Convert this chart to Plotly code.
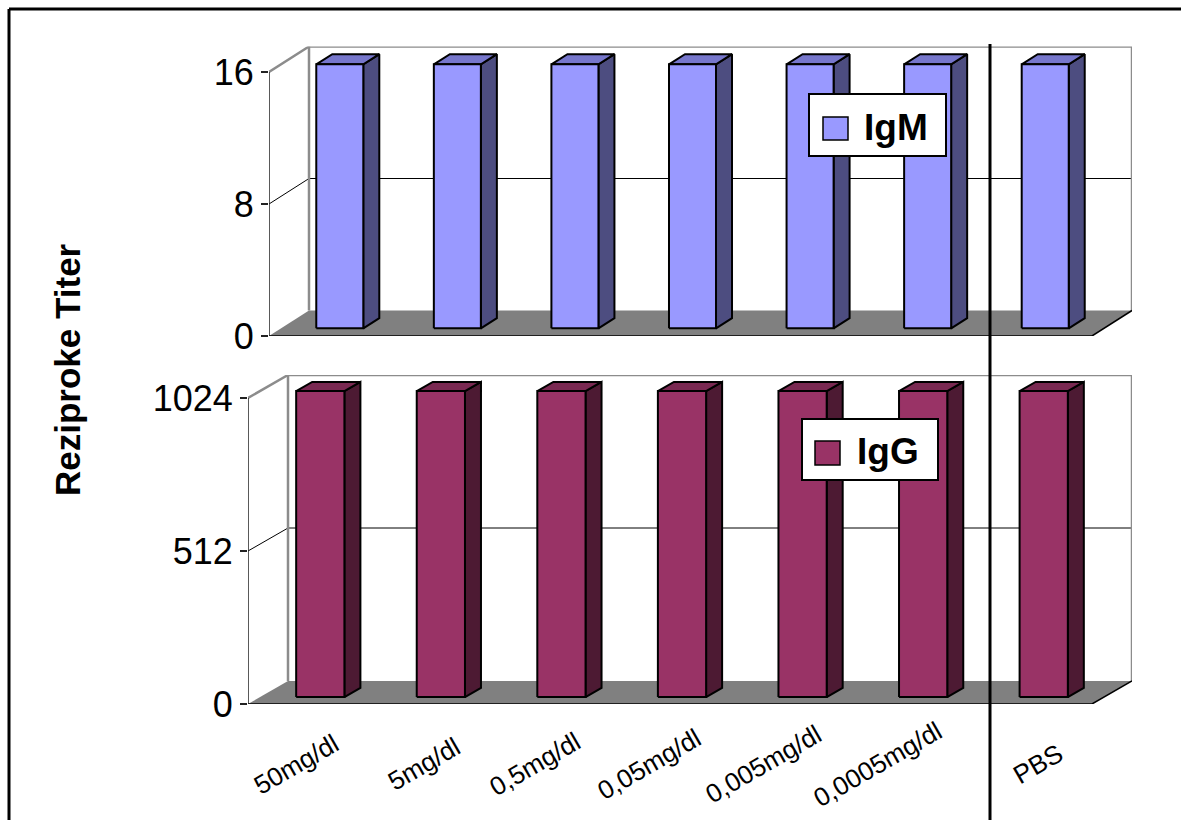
import plotly.graph_objects as go

# ---- data ----
categories = ["50mg/dl", "5mg/dl", "0,5mg/dl", "0,05mg/dl", "0,005mg/dl", "0,0005mg/dl", "PBS"]
igm_titer = [16, 16, 16, 16, 16, 16, 16]
igg_titer = [1024, 1024, 1024, 1024, 1024, 1024, 1024]
igm_ticks = [0, 8, 16]
igg_ticks = [0, 512, 1024]

# layout frame is expressed on a 1181 x 820 grid; figure canvas size below
W, H = 1181, 820
FIG_W, FIG_H = 1181, 841
FONT = "Liberation Sans, Arial, Helvetica, sans-serif"


def px(x):
    return x / W


def py(y):
    return 1 - y / H


# panel layout (pixel frame of the pseudo-3D plot box) and face colours
panels = [
    dict(name="IgM", values=igm_titer, ticks=igm_ticks, xa="x", ya="y",
         front_left=269, front_right=1092, depth_x=40,
         base_y=336, top_y=72, depth_y=25.5,
         front="#9999FF", top="#7777CC", side="#4D4D80",
         legend_box=(809, 94, 946, 156), legend_swatch=(823, 117, 848, 140),
         legend_text=(862, 127)),
    dict(name="IgG", values=igg_titer, ticks=igg_ticks, xa="x2", ya="y2",
         front_left=248, front_right=1092, depth_x=40,
         base_y=704, top_y=398, depth_y=23,
         front="#993366", top="#7A2952", side="#4D1A33",
         legend_box=(802, 419, 938, 480), legend_swatch=(815, 441, 840, 465),
         legend_text=(855, 451)),
]

BAR_W = 0.4          # bar width as fraction of category
BAR_D0, BAR_D1 = 0.3, 0.7   # bar depth span inside the floor

fig = go.Figure()
shapes = []
annotations = []
layout_axes = {}


def poly_trace(xs, ys, xa, ya, fill=None, line_color=None, line_width=0):
    kw = dict(x=xs, y=ys, mode="lines", xaxis=xa, yaxis=ya,
              hoverinfo="skip", showlegend=False)
    if fill:
        kw["fill"] = "toself"
        kw["fillcolor"] = fill
    if line_width:
        kw["line"] = dict(color=line_color, width=line_width)
    else:
        kw["line"] = dict(width=0, color="rgba(0,0,0,0)")
    return go.Scatter(**kw)


for p in panels:
    n = len(categories)
    cat_px = (p["front_right"] - p["front_left"]) / n
    DX = p["depth_x"] / cat_px
    vmax = max(p["ticks"])
    unit_px = (p["base_y"] - p["top_y"]) / vmax
    DY = p["depth_y"] / unit_px
    xa, ya = p["xa"], p["ya"]

    xkey = "xaxis" if xa == "x" else "xaxis" + xa[1:]
    ykey = "yaxis" if ya == "y" else "yaxis" + ya[1:]
    layout_axes[xkey] = dict(
        domain=[px(p["front_left"]), px(p["front_right"] + p["depth_x"])],
        range=[0, n + DX], anchor=ya, showgrid=False, zeroline=False,
        showline=False, showticklabels=False, ticks="", fixedrange=True)
    layout_axes[ykey] = dict(
        domain=[py(p["base_y"]), py(p["top_y"] - p["depth_y"])],
        range=[0, vmax + DY], anchor=xa, showgrid=False, zeroline=False,
        showline=False, tickvals=p["ticks"], ticktext=[str(t) for t in p["ticks"]],
        ticks="outside", ticklen=7, tickwidth=1.5, tickcolor="#222222",
        tickfont=dict(family=FONT, size=36, color="black"), fixedrange=True)

    # floor
    fig.add_trace(poly_trace([0, n, n + DX, DX, 0], [0, 0, DY, DY, 0], xa, ya,
                             fill="#808080"))
    # gridlines on side and back walls
    gx, gy = [], []
    for v in p["ticks"][1:-1]:
        gx += [0, DX, n + DX, None]
        gy += [v, v + DY, v + DY, None]
    fig.add_trace(poly_trace(gx, gy, xa, ya, line_color="black", line_width=1))
    # wall outline
    fig.add_trace(poly_trace(
        [0, DX, n + DX, n + DX, None, DX, DX],
        [vmax, vmax + DY, vmax + DY, DY, None, DY, vmax + DY],
        xa, ya, line_color="#8C8C8C", line_width=2.5))
    # floor front edges and value axis line
    fig.add_trace(poly_trace([0, n, n + DX], [0, 0, DY], xa, ya,
                             line_color="black", line_width=1.5))
    fig.add_trace(poly_trace([0, 0], [0, vmax], xa, ya,
                             line_color="#222222", line_width=1.5))

    # 3D bars
    ddx = (BAR_D1 - BAR_D0) * DX
    ddy = (BAR_D1 - BAR_D0) * DY
    fx, fy, sx, sy, tx, ty = [], [], [], [], [], []
    for i, v in enumerate(p["values"]):
        xl = i + 0.5 - BAR_W / 2 + BAR_D0 * DX
        xr = xl + BAR_W
        yb = BAR_D0 * DY
        yt = v + BAR_D0 * DY
        fx += [xl, xr, xr, xl, xl, None]
        fy += [yb, yb, yt, yt, yb, None]
        sx += [xr, xr + ddx, xr + ddx, xr, xr, None]
        sy += [yb, yb + ddy, yt + ddy, yt, yb, None]
        tx += [xl, xr, xr + ddx, xl + ddx, xl, None]
        ty += [yt, yt, yt + ddy, yt + ddy, yt, None]
    fig.add_trace(poly_trace(sx, sy, xa, ya, fill=p["side"], line_color="black", line_width=2))
    fig.add_trace(poly_trace(tx, ty, xa, ya, fill=p["top"], line_color="black", line_width=2))
    fig.add_trace(poly_trace(fx, fy, xa, ya, fill=p["front"], line_color="black", line_width=2))

    # legend box
    bx0, by0, bx1, by1 = p["legend_box"]
    shapes.append(dict(type="rect", xref="paper", yref="paper",
                       x0=px(bx0), x1=px(bx1), y0=py(by1), y1=py(by0),
                       fillcolor="white", line=dict(color="black", width=2)))
    sx0, sy0, sx1, sy1 = p["legend_swatch"]
    shapes.append(dict(type="rect", xref="paper", yref="paper",
                       x0=px(sx0), x1=px(sx1), y0=py(sy1), y1=py(sy0),
                       fillcolor=p["front"], line=dict(color="black", width=1.5)))
    lx, ly = p["legend_text"]
    annotations.append(dict(text=p["name"], xref="paper", yref="paper",
                            x=px(lx), y=py(ly), xanchor="left", yanchor="middle",
                            showarrow=False,
                            font=dict(family=FONT, size=37, color="black", weight="bold")))

# category labels under the lower panel
for i, c in enumerate(categories):
    annotations.append(dict(text=c, xref="x2", yref="paper", x=i + 0.5, xshift=39,
                            y=py(764), xanchor="right", yanchor="middle",
                            textangle=-30, showarrow=False,
                            font=dict(family=FONT, size=26, color="black")))

# value axis title
annotations.append(dict(text="Reziproke Titer", xref="paper", yref="paper",
                        x=px(68), y=py(370), textangle=-90, showarrow=False,
                        xanchor="center", yanchor="middle",
                        font=dict(family=FONT, size=35, color="black", weight="bold")))

# separator between dilutions and the PBS control
shapes.append(dict(type="line", xref="paper", yref="paper",
                   x0=px(990), x1=px(990), y0=py(44), y1=0,
                   line=dict(color="black", width=3)))
# outer frame
shapes.append(dict(type="line", xref="paper", yref="paper",
                   x0=px(9), x1=px(9), y0=py(9), y1=0,
                   line=dict(color="black", width=3)))
shapes.append(dict(type="line", xref="paper", yref="paper",
                   x0=px(9), x1=1, y0=py(9), y1=py(9),
                   line=dict(color="black", width=3)))

fig.update_layout(
    width=FIG_W, height=FIG_H, autosize=False, margin=dict(l=0, r=0, t=0, b=0),
    paper_bgcolor="white", plot_bgcolor="rgba(0,0,0,0)",
    showlegend=False, shapes=shapes, annotations=annotations,
    **layout_axes)

fig.write_html("out.html")
